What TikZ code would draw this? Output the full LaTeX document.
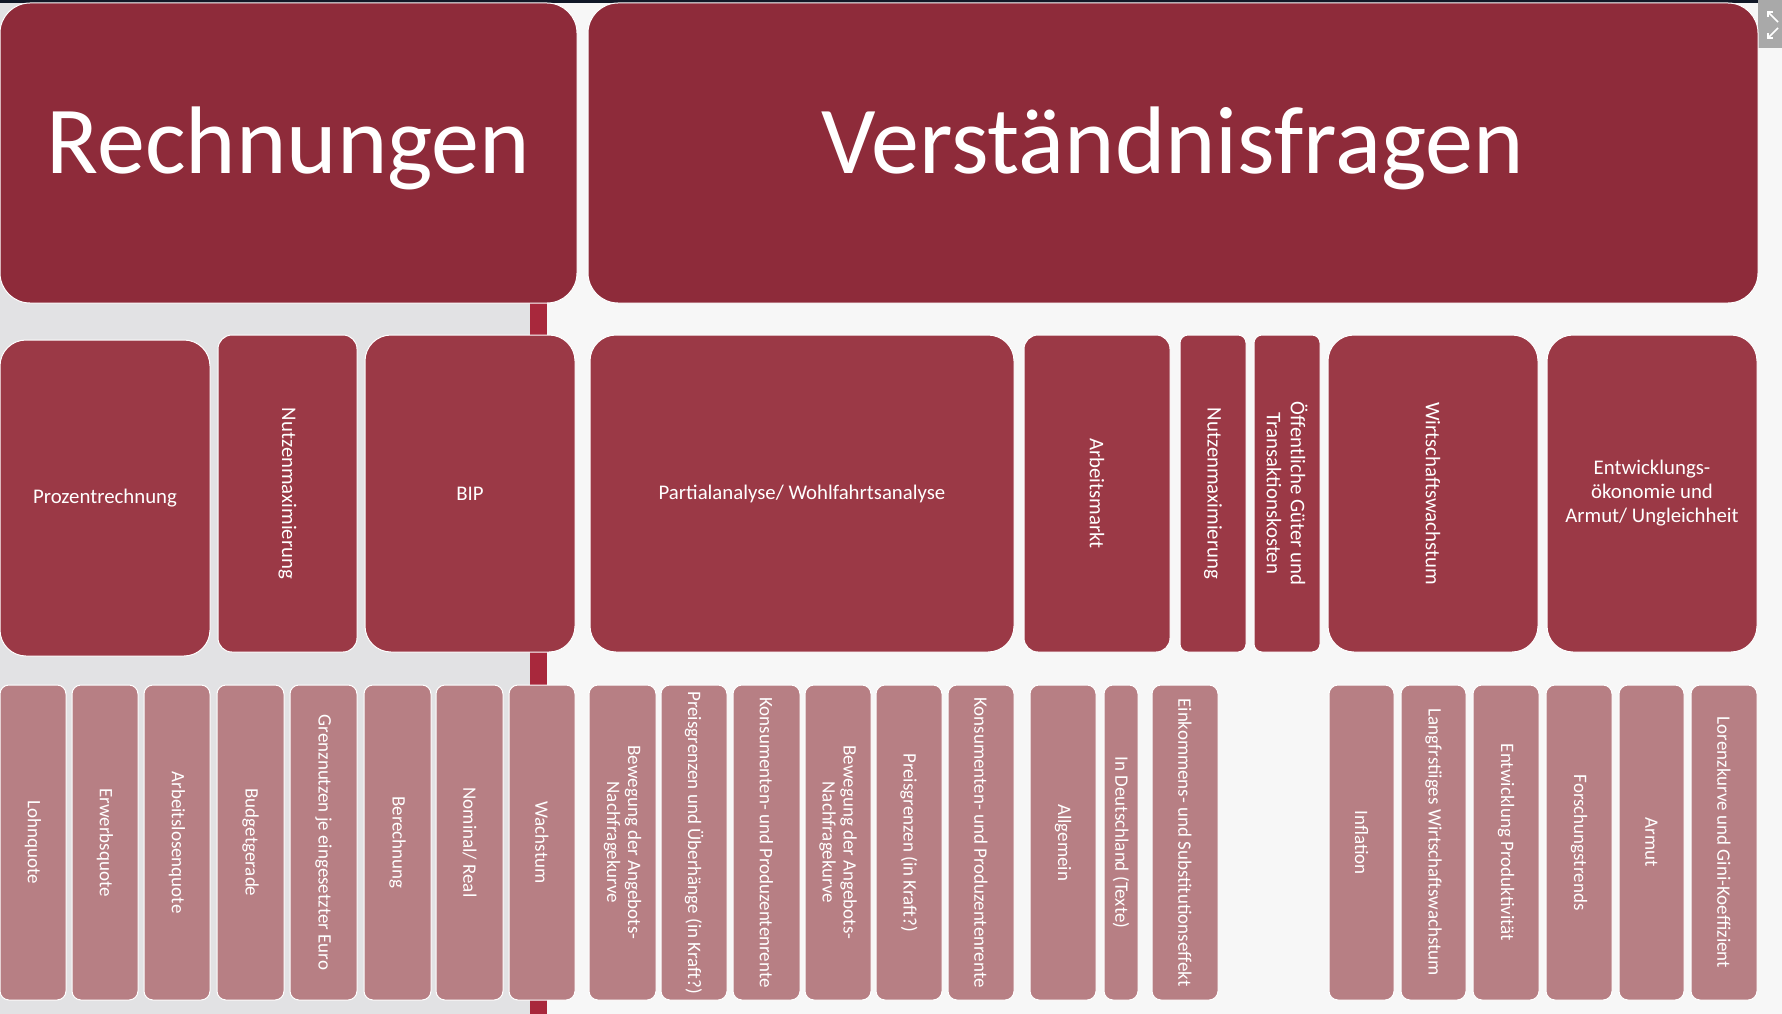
\documentclass[tikz,border=0pt]{standalone}
\usepackage{fontspec}
\setmainfont{Carlito}
\usetikzlibrary{arrows.meta}

\definecolor{topred}{HTML}{8E2B3A}
\definecolor{midred}{HTML}{9B3946}
\definecolor{lowrose}{HTML}{B77F84}
\definecolor{barred}{HTML}{A8283C}
\definecolor{leftbg}{HTML}{E2E2E4}
\definecolor{rightbg}{HTML}{F7F7F7}
\definecolor{topstrip}{HTML}{111827}
\definecolor{icongray}{HTML}{A9A9A9}

% horizontal cell: name, style, x1, y1, x2, y2, text
\newcommand\hcell[7]{%
  \node[#2, minimum width={(#5-#3)*1pt}, minimum height={(#6-#4)*1pt}]
    (#1) at ({(#3+#5)/2},{(#4+#6)/2}) {#7};}
% vertical cell (text runs top to bottom): name, style, x1, y1, x2, y2, text
\newcommand\vcell[7]{%
  \node[#2, rotate=-90, minimum width={(#6-#4)*1pt}, minimum height={(#5-#3)*1pt}]
    (#1) at ({(#3+#5)/2},{(#4+#6)/2}) {#7};}

\tikzset{
  cellbase/.style={rectangle, inner sep=0pt, text=white, align=center,
    draw=white, line width=1pt},
  topbox/.style={cellbase, fill=topred, rounded corners=30pt,
    font=\fontsize{96}{100}\selectfont, text depth=26pt},
  midbox/.style={cellbase, fill=midred, rounded corners=#1,
    font=\fontsize{20.8}{24}\selectfont},
  midbox/.default=26pt,
  lowbox/.style={cellbase, fill=lowrose, rounded corners=9pt,
    font=\fontsize{19}{21}\selectfont},
}

\begin{document}
\begin{tikzpicture}[x=1pt, y=-1pt]
  % page and backgrounds
  \useasboundingbox (0,0) rectangle (1782,1014);
  \fill[rightbg] (0,0) rectangle (1782,1014);
  \fill[leftbg] (0,0) rectangle (530,1014);
  \fill[barred] (530,303) rectangle (547,1014);
  \fill[topstrip] (0,0) rectangle (1758,3);

  % window control in the corner
  \fill[icongray] (1758,0) rectangle (1782,48);
  \coordinate (ua) at (1778,22);
  \coordinate (ub) at (1767,11);
  \coordinate (la) at (1778,28);
  \coordinate (lb) at (1767,39);
  \draw[white, line width=1.6pt, -{Straight Barb[length=3.5pt]}] (ua) -- (ub);
  \draw[white, line width=1.6pt, -{Straight Barb[length=3.5pt]}] (la) -- (lb);

  % headings
  \hcell{rech}{topbox}{0}{3}{577}{303}{Rechnungen}
  \hcell{verst}{topbox}{588}{3}{1758}{303}{Verständnisfragen}

  % second row
  \hcell{proz}{midbox}{0}{340}{210}{656}{Prozentrechnung}
  \vcell{nutzA}{midbox=14pt}{218}{335}{357}{652}{Nutzenmaximierung}
  \hcell{bip}{midbox}{365}{335}{575}{652}{BIP}
  \hcell{partial}{midbox}{590}{335}{1014}{652}{Partialanalyse/ Wohlfahrtsanalyse}
  \vcell{arbeit}{midbox=14pt}{1024}{335}{1170}{652}{Arbeitsmarkt}
  \vcell{nutzB}{midbox=8pt}{1180}{335}{1246}{652}{Nutzenmaximierung}
  \vcell{oeff}{midbox=8pt}{1254}{335}{1320}{652}{Öffentliche Güter und\\Transaktionskosten}
  \vcell{wachs}{midbox}{1328}{335}{1538}{652}{Wirtschaftswachstum}
  \hcell{entw}{midbox}{1547}{335}{1757}{652}{Entwicklungs-\\ökonomie und\\Armut/ Ungleichheit}

  % third row, left block
  \vcell{lohn}{lowbox}{0}{685}{66}{1000}{Lohnquote}
  \vcell{erwerb}{lowbox}{72}{685}{138}{1000}{Erwerbsquote}
  \vcell{alq}{lowbox}{144}{685}{210}{1000}{Arbeitslosenquote}
  \vcell{budget}{lowbox}{217}{685}{284}{1000}{Budgetgerade}
  \vcell{grenz}{lowbox}{290}{685}{357}{1000}{Grenznutzen je eingesetzter Euro}
  \vcell{berech}{lowbox}{364}{685}{431}{1000}{Berechnung}
  \vcell{nomreal}{lowbox}{436}{685}{503}{1000}{Nominal/ Real}
  \vcell{wachsB}{lowbox}{509}{685}{575}{1000}{Wachstum}

  % third row, right block
  \vcell{bewA}{lowbox}{589}{685}{656}{1000}{Bewegung der Angebots-\\Nachfragekurve}
  \vcell{preisA}{lowbox}{661}{685}{727}{1000}{Preisgrenzen und Überhänge (in Kraft?)}
  \vcell{konsA}{lowbox}{733}{685}{800}{1000}{Konsumenten- und Produzentenrente}
  \vcell{bewB}{lowbox}{805}{685}{871}{1000}{Bewegung der Angebots-\\Nachfragekurve}
  \vcell{preisB}{lowbox}{876}{685}{942}{1000}{Preisgrenzen (in Kraft?)}
  \vcell{konsB}{lowbox}{948}{685}{1014}{1000}{Konsumenten- und Produzentenrente}
  \vcell{allg}{lowbox}{1030}{685}{1096}{1000}{Allgemein}
  \vcell{deut}{lowbox=6pt}{1104}{685}{1138}{1000}{In Deutschland (Texte)}
  \vcell{eink}{lowbox}{1152}{685}{1218}{1000}{Einkommens- und Substitutionseffekt}
  \vcell{infl}{lowbox}{1329}{685}{1394}{1000}{Inflation}
  \vcell{langfr}{lowbox}{1401}{685}{1466}{1000}{Langfrstiiges Wirtschaftswachstum}
  \vcell{prod}{lowbox}{1473}{685}{1539}{1000}{Entwicklung Produktivität}
  \vcell{forsch}{lowbox}{1546}{685}{1612}{1000}{Forschungstrends}
  \vcell{armut}{lowbox}{1619}{685}{1684}{1000}{Armut}
  \vcell{lorenz}{lowbox}{1691}{685}{1757}{1000}{Lorenzkurve und Gini-Koeffizient}
\end{tikzpicture}
\end{document}
